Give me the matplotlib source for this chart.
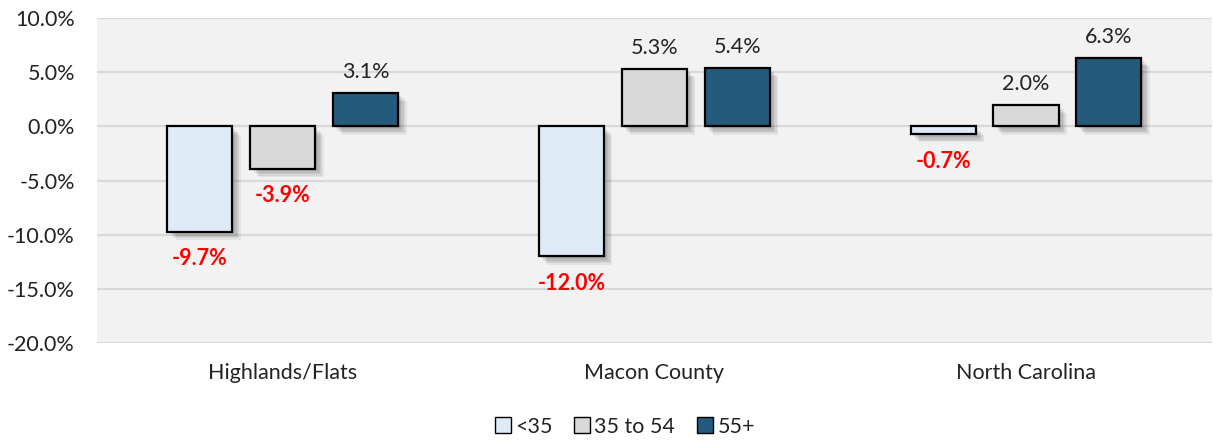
import matplotlib.pyplot as plt
import matplotlib.patheffects as pe
import numpy as np

plt.rcParams['font.family'] = ['Lato', 'DejaVu Sans']

# Population change by age group
regioes = ["Highlands/Flats", "Macon County", "North Carolina"]
faixas = ["<35", "35 to 54", "55+"]
menos_35 = [-9.7, -12.0, -0.7]
de_35_a_54 = [-3.9, 5.3, 2.0]
mais_55 = [3.1, 5.4, 6.3]
cores = ["#DEEAF6", "#D9D9D9", "#245A7C"]
yticks = [10, 5, 0, -5, -10, -15, -20]

series = [menos_35, de_35_a_54, mais_55]
fs = 15.5

fig = plt.figure(figsize=(12.13, 4.41), dpi=100)
ax = fig.add_axes([0.080, 0.222, 0.919, 0.737])
ax.set_facecolor("#F2F2F2")

# sombra borrada simulada com varias camadas translucidas
sombra = [pe.SimplePatchShadow(offset=(d, -d), shadow_rgbFace="black", alpha=0.06)
          for d in (1, 2, 3, 4, 5, 6)] + [pe.Normal()]

x = np.arange(len(regioes))
desloc = 0.223
larg = 0.175
for i, (vals, cor) in enumerate(zip(series, cores)):
    pos = x + (i - 1) * desloc
    barras = ax.bar(pos, vals, larg, color=cor, edgecolor="black", linewidth=1.6,
                    label=faixas[i], zorder=3)
    for b in barras:
        b.set_path_effects(sombra)
    for xp, v in zip(pos, vals):
        if v >= 0:
            ax.annotate(f"{v:.1f}%", (xp, v), xytext=(0, 8), textcoords="offset points",
                        ha="center", va="bottom", fontsize=fs, color="#222222")
        else:
            ax.annotate(f"{v:.1f}%", (xp, v), xytext=(0, -12), textcoords="offset points",
                        ha="center", va="top", fontsize=fs, color="#FF0000",
                        fontweight="bold")

ax.set_xlim(-0.5, 2.5)
ax.set_ylim(-20, 10)
ax.set_yticks(yticks)
ax.set_yticklabels([f"{t:.1f}%" for t in yticks], fontsize=fs, color="#222222")
ax.set_xticks(x)
ax.set_xticklabels(regioes, fontsize=fs, color="#222222")
ax.tick_params(length=0)
ax.tick_params(axis="y", pad=16)
ax.tick_params(axis="x", pad=14)
ax.grid(axis="y", color="#D9D9D9", linewidth=1.6, zorder=0)
ax.set_axisbelow(True)
for s in ax.spines.values():
    s.set_visible(False)

fig.legend(loc="lower center", bbox_to_anchor=(0.515, -0.034), ncol=3, frameon=False,
           fontsize=fs, handlelength=0.75, handleheight=0.75, handletextpad=0.2,
           columnspacing=1.0, labelcolor="#222222")
leg = fig.legends[0]
for h in leg.legend_handles:
    h.set_path_effects([])
    h.set_linewidth(1.0)

fig.savefig("out.png", dpi=100)
